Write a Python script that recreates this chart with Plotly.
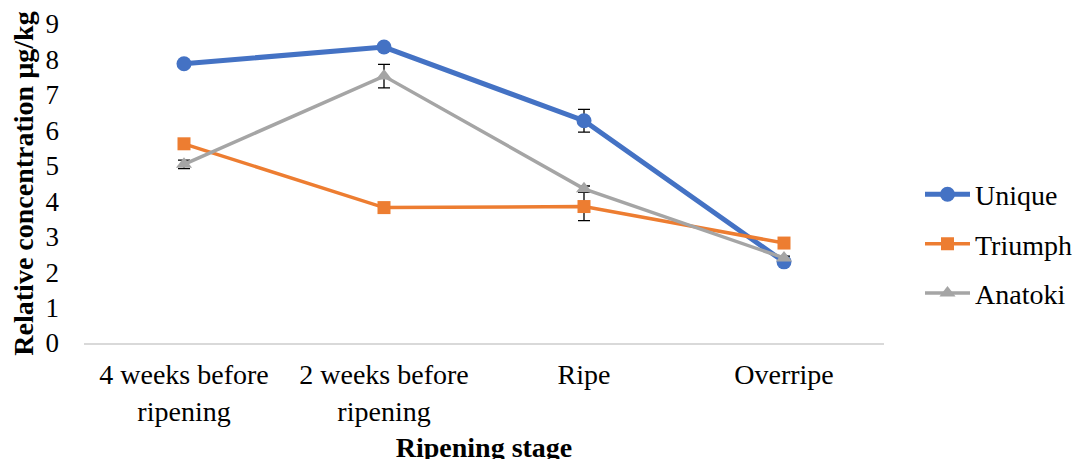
import plotly.graph_objects as go

categories = ["4 weeks before<br>ripening", "2 weeks before<br>ripening", "Ripe", "Overripe"]
unique = [7.88, 8.35, 6.27, 2.29]
unique_err = [0.05, 0.05, 0.32, 0.05]
triumph = [5.62, 3.82, 3.85, 2.82]
triumph_err = [0.05, 0.05, 0.40, 0.05]
anatoki = [5.04, 7.53, 4.35, 2.40]
anatoki_err = [0.12, 0.33, 0.08, 0.05]

font_family = "Liberation Serif, Times New Roman, serif"

fig = go.Figure()
series = [
    ("Unique", unique, unique_err, "#4472C4", "circle", 5, 15),
    ("Triumph", triumph, triumph_err, "#ED7D31", "square", 3.5, 13),
    ("Anatoki", anatoki, anatoki_err, "#A5A5A5", "triangle-up", 3.5, 14),
]
for name, vals, err, color, sym, lw, ms in series:
    fig.add_trace(go.Scatter(
        x=categories, y=vals, name=name, mode="lines+markers", legendgroup=name,
        line=dict(color=color, width=lw),
        marker=dict(color=color, symbol=sym, size=ms),
        error_y=dict(type="data", array=err, visible=True, color="black", thickness=1.3, width=6),
    ))

fig.update_layout(
    width=1082, height=459,
    margin=dict(l=76, r=206, t=16, b=124),
    plot_bgcolor="white", paper_bgcolor="white",
    font=dict(family=font_family, size=28, color="black"),
    showlegend=True,
    legend=dict(x=1.045, y=0.31, xanchor="left", yanchor="middle",
                font=dict(size=28, family=font_family), tracegroupgap=10,
                traceorder="grouped", itemwidth=45, borderwidth=0,
                bgcolor="rgba(0,0,0,0)"),
    xaxis=dict(
        range=[-0.5, 3.5], automargin=False,
        showline=True, linecolor="#D9D9D9", linewidth=1.5, showgrid=False,
        ticks="", tickfont=dict(size=28), ticklabelstandoff=6,
        title=dict(text="<b>Ripening stage</b>", font=dict(size=28), standoff=12),
    ),
    yaxis=dict(
        range=[0, 9], dtick=1, showgrid=False, zeroline=False, showline=False,
        automargin=False, ticks="", tickfont=dict(size=27), ticklabelstandoff=24,
        title=dict(text="<b>Relative concentration µg/kg</b>", font=dict(size=28), standoff=4),
    ),
)

fig.write_html("out.html")
